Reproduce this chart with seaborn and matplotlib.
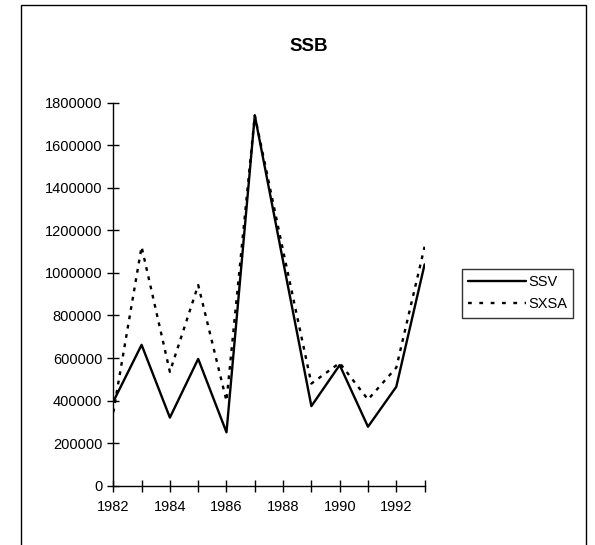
import numpy as np
import pandas as pd
import matplotlib
matplotlib.use("Agg")
import matplotlib.pyplot as plt
import seaborn as sns
from matplotlib.patches import Rectangle

years = [1982, 1983, 1984, 1985, 1986, 1987, 1988, 1989, 1990, 1991, 1992, 1993]
ssv = [395000, 662000, 320000, 596000, 251000, 1740000, 1055000, 374000, 567000, 277000, 465000, 1040000]
sxsa = [345000, 1123000, 535000, 943000, 398000, 1740000, 1105000, 480000, 577000, 405000, 555000, 1123000]
series = ["SSV", "SXSA"]
y_ticks = [0, 200000, 400000, 600000, 800000, 1000000, 1200000, 1400000, 1600000, 1800000]

df = pd.DataFrame({
    "year": years * 2,
    "value": ssv + sxsa,
    "series": ["SSV"] * len(years) + ["SXSA"] * len(years),
})

sns.set_style("white")
plt.rcParams['font.family'] = ['Liberation Sans', 'DejaVu Sans']
plt.rcParams['text.color'] = 'black'

fig = plt.figure(figsize=(5.95, 5.45), dpi=100)
ax = fig.add_axes([0.1904, 0.1088, 0.5232, 0.7028])

sns.lineplot(data=df, x="year", y="value", hue="series", style="series",
             palette={"SSV": "black", "SXSA": "black"},
             dashes={"SSV": "", "SXSA": (1.6, 2.4)},
             linewidth=1.7, ax=ax, legend=False)

ax.set_xlim(1982, 1993)
ax.set_ylim(0, 1800000)
ax.set_xticks(years)
ax.set_xticklabels([str(y) if y % 2 == 0 else "" for y in years])
ax.set_yticks(y_ticks)
ax.set_yticklabels([str(v) for v in y_ticks])
ax.set_xlabel("")
ax.set_ylabel("")
ax.tick_params(direction="inout", length=8, width=1, colors="black",
               labelsize=10.5, left=True, bottom=True)
ax.tick_params(axis="x", pad=6)
ax.tick_params(axis="y", pad=4)
for s in ["top", "right"]:
    ax.spines[s].set_visible(False)
for s in ["left", "bottom"]:
    ax.spines[s].set_color("black")
    ax.spines[s].set_linewidth(1.0)

fig.text(0.519, 0.915, "SSB", ha="center", va="center",
         fontsize=13.5, fontweight="bold", color="black")

# legend box
handles = [plt.Line2D([], [], color="black", lw=1.7),
           plt.Line2D([], [], color="black", lw=1.7, dashes=(1.6, 3.2))]
leg = fig.legend(handles, series, loc="center",
                 bbox_to_anchor=(0.8698, 0.4615), frameon=True, fancybox=False,
                 edgecolor="black", fontsize=10.5, handlelength=4.0,
                 handletextpad=0.1, borderpad=0.45, labelspacing=0.55,
                 borderaxespad=0)
leg.get_frame().set_linewidth(1.0)
for t in leg.get_texts():
    t.set_color("black")

# outer chart border
fig.patches.append(Rectangle((0.0348, -0.05), 0.9496, 1.0403,
                             transform=fig.transFigure, fill=False,
                             edgecolor="black", linewidth=1.0))

fig.savefig("out.png", dpi=100)
